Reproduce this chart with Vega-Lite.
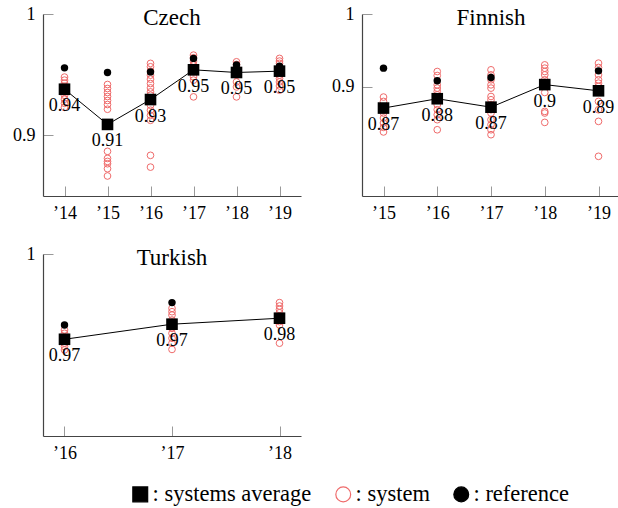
{
  "$schema": "https://vega.github.io/schema/vega-lite/v6.json",
  "padding": {"left": 12, "top": 5, "right": 0, "bottom": 0},
  "background": "white",
  "datasets": {
    "d": [
      {"lang":"Czech","kind":"system","year":14,"value":0.948},
      {"lang":"Czech","kind":"system","year":14,"value":0.9455},
      {"lang":"Czech","kind":"system","year":14,"value":0.943},
      {"lang":"Czech","kind":"system","year":14,"value":0.9405},
      {"lang":"Czech","kind":"system","year":14,"value":0.938},
      {"lang":"Czech","kind":"system","year":14,"value":0.9355},
      {"lang":"Czech","kind":"system","year":14,"value":0.933},
      {"lang":"Czech","kind":"system","year":14,"value":0.9298},
      {"lang":"Czech","kind":"system","year":14,"value":0.9264},
      {"lang":"Czech","kind":"system","year":14,"value":0.9231},
      {"lang":"Czech","kind":"system","year":15,"value":0.9419},
      {"lang":"Czech","kind":"system","year":15,"value":0.9386},
      {"lang":"Czech","kind":"system","year":15,"value":0.9353},
      {"lang":"Czech","kind":"system","year":15,"value":0.932},
      {"lang":"Czech","kind":"system","year":15,"value":0.9287},
      {"lang":"Czech","kind":"system","year":15,"value":0.9254},
      {"lang":"Czech","kind":"system","year":15,"value":0.9215},
      {"lang":"Czech","kind":"system","year":15,"value":0.8868},
      {"lang":"Czech","kind":"system","year":15,"value":0.881},
      {"lang":"Czech","kind":"system","year":15,"value":0.8785},
      {"lang":"Czech","kind":"system","year":15,"value":0.8766},
      {"lang":"Czech","kind":"system","year":15,"value":0.8725},
      {"lang":"Czech","kind":"system","year":15,"value":0.8665},
      {"lang":"Czech","kind":"system","year":16,"value":0.9593},
      {"lang":"Czech","kind":"system","year":16,"value":0.9565},
      {"lang":"Czech","kind":"system","year":16,"value":0.9529},
      {"lang":"Czech","kind":"system","year":16,"value":0.9496},
      {"lang":"Czech","kind":"system","year":16,"value":0.9463},
      {"lang":"Czech","kind":"system","year":16,"value":0.9427},
      {"lang":"Czech","kind":"system","year":16,"value":0.9391},
      {"lang":"Czech","kind":"system","year":16,"value":0.9358},
      {"lang":"Czech","kind":"system","year":16,"value":0.933},
      {"lang":"Czech","kind":"system","year":16,"value":0.9289},
      {"lang":"Czech","kind":"system","year":16,"value":0.9248},
      {"lang":"Czech","kind":"system","year":16,"value":0.9207},
      {"lang":"Czech","kind":"system","year":16,"value":0.9165},
      {"lang":"Czech","kind":"system","year":16,"value":0.9124},
      {"lang":"Czech","kind":"system","year":16,"value":0.8835},
      {"lang":"Czech","kind":"system","year":16,"value":0.8738},
      {"lang":"Czech","kind":"system","year":17,"value":0.9661},
      {"lang":"Czech","kind":"system","year":17,"value":0.9639},
      {"lang":"Czech","kind":"system","year":17,"value":0.9612},
      {"lang":"Czech","kind":"system","year":17,"value":0.9579},
      {"lang":"Czech","kind":"system","year":17,"value":0.9523},
      {"lang":"Czech","kind":"system","year":17,"value":0.9482},
      {"lang":"Czech","kind":"system","year":17,"value":0.9455},
      {"lang":"Czech","kind":"system","year":17,"value":0.9317},
      {"lang":"Czech","kind":"system","year":18,"value":0.9606},
      {"lang":"Czech","kind":"system","year":18,"value":0.9584},
      {"lang":"Czech","kind":"system","year":18,"value":0.9565},
      {"lang":"Czech","kind":"system","year":18,"value":0.9537},
      {"lang":"Czech","kind":"system","year":18,"value":0.9496},
      {"lang":"Czech","kind":"system","year":18,"value":0.944},
      {"lang":"Czech","kind":"system","year":18,"value":0.9399},
      {"lang":"Czech","kind":"system","year":18,"value":0.9317},
      {"lang":"Czech","kind":"system","year":19,"value":0.9634},
      {"lang":"Czech","kind":"system","year":19,"value":0.9612},
      {"lang":"Czech","kind":"system","year":19,"value":0.9593},
      {"lang":"Czech","kind":"system","year":19,"value":0.9565},
      {"lang":"Czech","kind":"system","year":19,"value":0.9537},
      {"lang":"Czech","kind":"system","year":19,"value":0.9496},
      {"lang":"Czech","kind":"system","year":19,"value":0.9469},
      {"lang":"Czech","kind":"system","year":19,"value":0.944},
      {"lang":"Czech","kind":"system","year":19,"value":0.9407},
      {"lang":"Czech","kind":"system","year":19,"value":0.9372},
      {"lang":"Czech","kind":"reference","year":14,"value":0.9556},
      {"lang":"Czech","kind":"reference","year":15,"value":0.9518},
      {"lang":"Czech","kind":"reference","year":16,"value":0.9523},
      {"lang":"Czech","kind":"reference","year":17,"value":0.9634},
      {"lang":"Czech","kind":"reference","year":18,"value":0.9579},
      {"lang":"Czech","kind":"reference","year":19,"value":0.957},
      {"lang":"Czech","kind":"systems average","year":14,"value":0.938},
      {"lang":"Czech","kind":"systems average","year":15,"value":0.909},
      {"lang":"Czech","kind":"systems average","year":16,"value":0.9295},
      {"lang":"Czech","kind":"systems average","year":17,"value":0.954},
      {"lang":"Czech","kind":"systems average","year":18,"value":0.9518},
      {"lang":"Czech","kind":"systems average","year":19,"value":0.9529},
      {"lang":"Finnish","kind":"system","year":15,"value":0.8859},
      {"lang":"Finnish","kind":"system","year":15,"value":0.8799},
      {"lang":"Finnish","kind":"system","year":15,"value":0.872},
      {"lang":"Finnish","kind":"system","year":15,"value":0.868},
      {"lang":"Finnish","kind":"system","year":15,"value":0.864},
      {"lang":"Finnish","kind":"system","year":15,"value":0.8571},
      {"lang":"Finnish","kind":"system","year":15,"value":0.8503},
      {"lang":"Finnish","kind":"system","year":15,"value":0.8443},
      {"lang":"Finnish","kind":"system","year":15,"value":0.838},
      {"lang":"Finnish","kind":"system","year":16,"value":0.921},
      {"lang":"Finnish","kind":"system","year":16,"value":0.9155},
      {"lang":"Finnish","kind":"system","year":16,"value":0.9027},
      {"lang":"Finnish","kind":"system","year":16,"value":0.8982},
      {"lang":"Finnish","kind":"system","year":16,"value":0.8936},
      {"lang":"Finnish","kind":"system","year":16,"value":0.889},
      {"lang":"Finnish","kind":"system","year":16,"value":0.8753},
      {"lang":"Finnish","kind":"system","year":16,"value":0.8685},
      {"lang":"Finnish","kind":"system","year":16,"value":0.8616},
      {"lang":"Finnish","kind":"system","year":16,"value":0.8548},
      {"lang":"Finnish","kind":"system","year":16,"value":0.841},
      {"lang":"Finnish","kind":"system","year":17,"value":0.9233},
      {"lang":"Finnish","kind":"system","year":17,"value":0.9164},
      {"lang":"Finnish","kind":"system","year":17,"value":0.9096},
      {"lang":"Finnish","kind":"system","year":17,"value":0.9027},
      {"lang":"Finnish","kind":"system","year":17,"value":0.8982},
      {"lang":"Finnish","kind":"system","year":17,"value":0.8867},
      {"lang":"Finnish","kind":"system","year":17,"value":0.8822},
      {"lang":"Finnish","kind":"system","year":17,"value":0.8753},
      {"lang":"Finnish","kind":"system","year":17,"value":0.8685},
      {"lang":"Finnish","kind":"system","year":17,"value":0.864},
      {"lang":"Finnish","kind":"system","year":17,"value":0.8548},
      {"lang":"Finnish","kind":"system","year":17,"value":0.848},
      {"lang":"Finnish","kind":"system","year":17,"value":0.841},
      {"lang":"Finnish","kind":"system","year":17,"value":0.8342},
      {"lang":"Finnish","kind":"system","year":18,"value":0.9301},
      {"lang":"Finnish","kind":"system","year":18,"value":0.9256},
      {"lang":"Finnish","kind":"system","year":18,"value":0.921},
      {"lang":"Finnish","kind":"system","year":18,"value":0.9164},
      {"lang":"Finnish","kind":"system","year":18,"value":0.9096},
      {"lang":"Finnish","kind":"system","year":18,"value":0.8922},
      {"lang":"Finnish","kind":"system","year":18,"value":0.8662},
      {"lang":"Finnish","kind":"system","year":18,"value":0.864},
      {"lang":"Finnish","kind":"system","year":18,"value":0.8511},
      {"lang":"Finnish","kind":"system","year":19,"value":0.9325},
      {"lang":"Finnish","kind":"system","year":19,"value":0.9265},
      {"lang":"Finnish","kind":"system","year":19,"value":0.9164},
      {"lang":"Finnish","kind":"system","year":19,"value":0.9096},
      {"lang":"Finnish","kind":"system","year":19,"value":0.905},
      {"lang":"Finnish","kind":"system","year":19,"value":0.9005},
      {"lang":"Finnish","kind":"system","year":19,"value":0.8799},
      {"lang":"Finnish","kind":"system","year":19,"value":0.8685},
      {"lang":"Finnish","kind":"system","year":19,"value":0.8525},
      {"lang":"Finnish","kind":"system","year":19,"value":0.8045},
      {"lang":"Finnish","kind":"reference","year":15,"value":0.9256},
      {"lang":"Finnish","kind":"reference","year":16,"value":0.9082},
      {"lang":"Finnish","kind":"reference","year":17,"value":0.9128},
      {"lang":"Finnish","kind":"reference","year":19,"value":0.9219},
      {"lang":"Finnish","kind":"systems average","year":15,"value":0.8708},
      {"lang":"Finnish","kind":"systems average","year":16,"value":0.8836},
      {"lang":"Finnish","kind":"systems average","year":17,"value":0.872},
      {"lang":"Finnish","kind":"systems average","year":18,"value":0.903},
      {"lang":"Finnish","kind":"systems average","year":19,"value":0.8945},
      {"lang":"Turkish","kind":"system","year":16,"value":0.9708},
      {"lang":"Turkish","kind":"system","year":16,"value":0.9695},
      {"lang":"Turkish","kind":"system","year":16,"value":0.9682},
      {"lang":"Turkish","kind":"system","year":16,"value":0.9657},
      {"lang":"Turkish","kind":"system","year":16,"value":0.9644},
      {"lang":"Turkish","kind":"system","year":16,"value":0.9631},
      {"lang":"Turkish","kind":"system","year":17,"value":0.9791},
      {"lang":"Turkish","kind":"system","year":17,"value":0.9778},
      {"lang":"Turkish","kind":"system","year":17,"value":0.9765},
      {"lang":"Turkish","kind":"system","year":17,"value":0.9746},
      {"lang":"Turkish","kind":"system","year":17,"value":0.9714},
      {"lang":"Turkish","kind":"system","year":17,"value":0.9695},
      {"lang":"Turkish","kind":"system","year":17,"value":0.9676},
      {"lang":"Turkish","kind":"system","year":17,"value":0.9657},
      {"lang":"Turkish","kind":"system","year":17,"value":0.9633},
      {"lang":"Turkish","kind":"system","year":18,"value":0.9813},
      {"lang":"Turkish","kind":"system","year":18,"value":0.98},
      {"lang":"Turkish","kind":"system","year":18,"value":0.9787},
      {"lang":"Turkish","kind":"system","year":18,"value":0.9774},
      {"lang":"Turkish","kind":"system","year":18,"value":0.9762},
      {"lang":"Turkish","kind":"system","year":18,"value":0.974},
      {"lang":"Turkish","kind":"system","year":18,"value":0.9727},
      {"lang":"Turkish","kind":"system","year":18,"value":0.9657},
      {"lang":"Turkish","kind":"reference","year":16,"value":0.9727},
      {"lang":"Turkish","kind":"reference","year":17,"value":0.9813},
      {"lang":"Turkish","kind":"systems average","year":16,"value":0.9672},
      {"lang":"Turkish","kind":"systems average","year":17,"value":0.973},
      {"lang":"Turkish","kind":"systems average","year":18,"value":0.9753}
    ]
  },
  "data": {"name": "d"},
  "columns": 2,
  "bounds": "flush",
  "spacing": {"row": 58, "column": 61},
  "concat": [
    {
      "title": {"text": "Czech"},
      "width": 258, "height": 182,
      "transform": [{"filter": "datum.lang == 'Czech'"}],
      "encoding": {
        "x": {"field": "year", "type": "quantitative", "title": null,
              "scale": {"domain": [13.5, 19.5], "nice": false, "zero": false},
              "axis": {"values": [14, 15, 16, 17, 18, 19]}},
        "y": {"field": "value", "type": "quantitative", "title": null,
              "scale": {"domain": [0.85, 1], "nice": false, "zero": false},
              "axis": {"values": [0.9, 1]}}
      },
      "layer": [
        {
          "encoding": {
            "fill": {"field": "kind", "type": "nominal", "scale": {"domain": ["systems average", "system", "reference"], "range": ["black", "transparent", "black"]}, "legend": {"title": null, "labelExpr": "': ' + datum.label", "encode": {"symbols": {"update": {"size": {"signal": "datum.value == 'systems average' ? 220 : datum.value == 'system' ? 64 : 48"}}}}}},
            "stroke": {"field": "kind", "type": "nominal", "scale": {"domain": ["systems average", "system", "reference"], "range": ["black", "#ef6b6b", "black"]}, "legend": {"title": null, "labelExpr": "': ' + datum.label"}},
            "shape": {"field": "kind", "type": "nominal", "scale": {"domain": ["systems average", "system", "reference"], "range": ["square", "circle", "circle"]}, "legend": {"title": null, "labelExpr": "': ' + datum.label"}}
          },
          "layer": [
            {"transform": [{"filter": "datum.kind == 'system'"}], "mark": {"type": "point", "filled": true, "opacity": 1, "size": 45, "strokeWidth": 1}},
            {"transform": [{"filter": "datum.kind == 'reference'"}], "mark": {"type": "point", "filled": true, "opacity": 1, "size": 55, "strokeWidth": 0}},
            {"transform": [{"filter": "datum.kind == 'systems average'"}], "mark": {"type": "point", "filled": true, "opacity": 1, "size": 135, "strokeWidth": 0}}
          ]
        },
        {"transform": [{"filter": "datum.kind == 'systems average'"}], "mark": {"type": "line", "color": "black", "strokeWidth": 1}, "encoding": {}},
        {"transform": [{"filter": "datum.kind == 'systems average'"}], "mark": {"type": "text", "dy": 17, "baseline": "middle", "font": "Liberation Serif", "fontSize": 18, "color": "black"},
         "encoding": {"text": {"field": "value", "type": "quantitative", "format": ".2~f"}}}
      ]
    },
    {
      "title": {"text": "Finnish"},
      "width": 258, "height": 182,
      "transform": [{"filter": "datum.lang == 'Finnish'"}],
      "encoding": {
        "x": {"field": "year", "type": "quantitative", "title": null,
              "scale": {"domain": [14.6, 19.4], "nice": false, "zero": false},
              "axis": {"values": [15, 16, 17, 18, 19]}},
        "y": {"field": "value", "type": "quantitative", "title": null,
              "scale": {"domain": [0.75, 1], "nice": false, "zero": false},
              "axis": {"values": [0.9, 1]}}
      },
      "layer": [
        {
          "encoding": {
            "fill": {"field": "kind", "type": "nominal", "scale": {"domain": ["systems average", "system", "reference"], "range": ["black", "transparent", "black"]}, "legend": {"title": null, "labelExpr": "': ' + datum.label", "encode": {"symbols": {"update": {"size": {"signal": "datum.value == 'systems average' ? 220 : datum.value == 'system' ? 64 : 48"}}}}}},
            "stroke": {"field": "kind", "type": "nominal", "scale": {"domain": ["systems average", "system", "reference"], "range": ["black", "#ef6b6b", "black"]}, "legend": {"title": null, "labelExpr": "': ' + datum.label"}},
            "shape": {"field": "kind", "type": "nominal", "scale": {"domain": ["systems average", "system", "reference"], "range": ["square", "circle", "circle"]}, "legend": {"title": null, "labelExpr": "': ' + datum.label"}}
          },
          "layer": [
            {"transform": [{"filter": "datum.kind == 'system'"}], "mark": {"type": "point", "filled": true, "opacity": 1, "size": 45, "strokeWidth": 1}},
            {"transform": [{"filter": "datum.kind == 'reference'"}], "mark": {"type": "point", "filled": true, "opacity": 1, "size": 55, "strokeWidth": 0}},
            {"transform": [{"filter": "datum.kind == 'systems average'"}], "mark": {"type": "point", "filled": true, "opacity": 1, "size": 135, "strokeWidth": 0}}
          ]
        },
        {"transform": [{"filter": "datum.kind == 'systems average'"}], "mark": {"type": "line", "color": "black", "strokeWidth": 1}, "encoding": {}},
        {"transform": [{"filter": "datum.kind == 'systems average'"}], "mark": {"type": "text", "dy": 17, "baseline": "middle", "font": "Liberation Serif", "fontSize": 18, "color": "black"},
         "encoding": {"text": {"field": "value", "type": "quantitative", "format": ".2~f"}}}
      ]
    },
    {
      "title": {"text": "Turkish"},
      "width": 258, "height": 182,
      "transform": [{"filter": "datum.lang == 'Turkish'"}],
      "encoding": {
        "x": {"field": "year", "type": "quantitative", "title": null,
              "scale": {"domain": [15.8, 18.2], "nice": false, "zero": false},
              "axis": {"values": [16, 17, 18]}},
        "y": {"field": "value", "type": "quantitative", "title": null,
              "scale": {"domain": [0.93, 1], "nice": false, "zero": false},
              "axis": {"values": [1]}}
      },
      "layer": [
        {
          "encoding": {
            "fill": {"field": "kind", "type": "nominal", "scale": {"domain": ["systems average", "system", "reference"], "range": ["black", "transparent", "black"]}, "legend": {"title": null, "labelExpr": "': ' + datum.label", "encode": {"symbols": {"update": {"size": {"signal": "datum.value == 'systems average' ? 220 : datum.value == 'system' ? 64 : 48"}}}}}},
            "stroke": {"field": "kind", "type": "nominal", "scale": {"domain": ["systems average", "system", "reference"], "range": ["black", "#ef6b6b", "black"]}, "legend": {"title": null, "labelExpr": "': ' + datum.label"}},
            "shape": {"field": "kind", "type": "nominal", "scale": {"domain": ["systems average", "system", "reference"], "range": ["square", "circle", "circle"]}, "legend": {"title": null, "labelExpr": "': ' + datum.label"}}
          },
          "layer": [
            {"transform": [{"filter": "datum.kind == 'system'"}], "mark": {"type": "point", "filled": true, "opacity": 1, "size": 45, "strokeWidth": 1}},
            {"transform": [{"filter": "datum.kind == 'reference'"}], "mark": {"type": "point", "filled": true, "opacity": 1, "size": 55, "strokeWidth": 0}},
            {"transform": [{"filter": "datum.kind == 'systems average'"}], "mark": {"type": "point", "filled": true, "opacity": 1, "size": 135, "strokeWidth": 0}}
          ]
        },
        {"transform": [{"filter": "datum.kind == 'systems average'"}], "mark": {"type": "line", "color": "black", "strokeWidth": 1}, "encoding": {}},
        {"transform": [{"filter": "datum.kind == 'systems average'"}], "mark": {"type": "text", "dy": 17, "baseline": "middle", "font": "Liberation Serif", "fontSize": 18, "color": "black"},
         "encoding": {"text": {"field": "value", "type": "quantitative", "format": ".2~f"}}}
      ]
    }
  ],
  "config": {
    "view": {"stroke": null},
    "font": "Liberation Serif",
    "title": {"font": "Liberation Serif", "fontSize": 23, "fontWeight": "normal", "color": "black", "anchor": "middle", "frame": "group", "offset": 0, "baseline": "alphabetic", "dy": 29},
    "axis": {"grid": false, "domainColor": "#444", "domainWidth": 1.2, "tickColor": "#999", "tickSize": -10, "tickWidth": 1,
             "labelFont": "Liberation Serif", "labelFontSize": 18, "labelColor": "black", "labelPadding": 18, "labelOverlap": false, "labelFlush": false},
    "axisX": {"labelExpr": "'’' + datum.value"},
    "axisY": {"format": "~g"},
    "legend": {"orient": "none", "legendX": 86, "legendY": 469, "direction": "horizontal", "padding": 0,
               "labelFont": "Liberation Serif", "labelFontSize": 22.5, "labelColor": "black", "labelOffset": 1, "labelLimit": 400,
               "columnPadding": 20, "symbolSize": 220, "symbolStrokeWidth": 1.2}
  }
}
